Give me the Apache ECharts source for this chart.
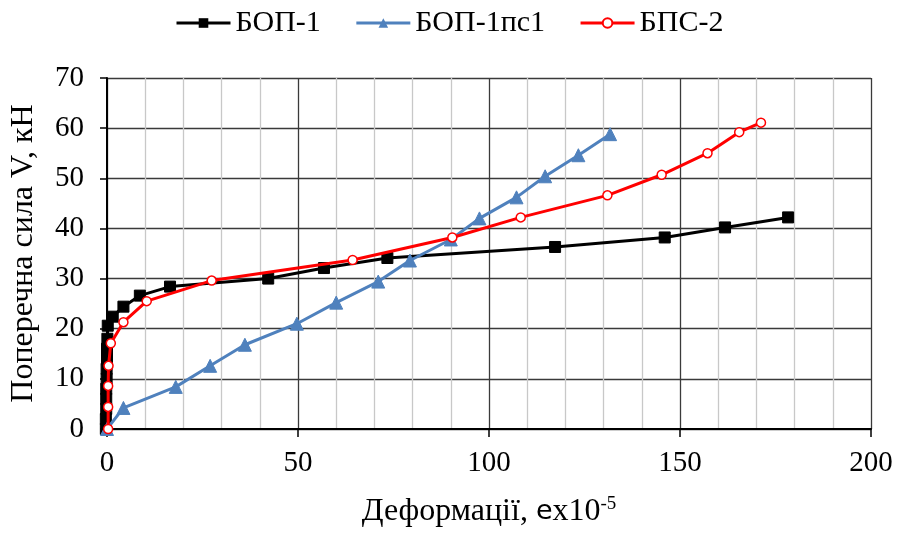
<!DOCTYPE html>
<html>
<head>
<meta charset="utf-8">
<script src="https://cdn.jsdelivr.net/npm/echarts@6/dist/echarts.min.js"></script>
<style>
html,body{margin:0;padding:0;background:#fff;}
#chart{width:897px;height:535px;}
</style>
</head>
<body>
<div id="chart"></div>
<script>
// Series names
const seriesNames = ['БОП-1', 'БОП-1пс1', 'БПС-2'];

// БОП-1: [deformation e×10^-5, shear force kN]
const bop1 = [
  [-0.3,0],[-0.3,2],[-0.2,4],[-0.2,6],[-0.2,8],[-0.1,10],[-0.1,12],[0,14],[0,16],[0.1,18],
  [0.2,20.6],[1.5,22.4],[4.3,24.4],[8.6,26.6],[16.5,28.4],[42.2,30],[56.8,32.1],
  [73.4,34.1],[117.3,36.3],[146,38.2],[161.8,40.2],[178.3,42.2]
];

// БОП-1пс1
const bop1ps1 = [
  [0,0],[4.3,4.2],[18,8.4],[27,12.6],[36.1,16.8],[49.7,21],[60,25.2],[71,29.4],
  [79.3,33.6],[90,37.8],[97.5,42],[107.2,46.2],[114.7,50.4],[123.4,54.6],[131.7,58.8]
];

// БПС-2
const bps2 = [
  [0.3,0],[0.3,4.4],[0.3,8.6],[0.4,12.6],[1,17.1],[4.3,21.3],[10.4,25.5],[27.4,29.6],
  [64.3,33.7],[90.4,38.2],[108.3,42.2],[131,46.6],[145.2,50.7],[157.2,55],[165.5,59.2],[171.2,61.1]
];

// Axis settings
const xMin = 0, xMax = 200, xStep = 50;
const yMin = 0, yMax = 70, yStep = 10;
const xTitle = 'Деформації, ';
const yTitle = 'Поперечна сила V, кН';

const FONT = '"Liberation Serif", "Times New Roman", serif';
const chart = echarts.init(document.getElementById('chart'), null, {renderer: 'canvas'});

chart.setOption({
  animation: false,
  backgroundColor: '#fff',
  textStyle: {fontFamily: FONT},
  legend: {
    top: 3,
    left: 170,
    itemWidth: 54,
    itemHeight: 12,
    itemGap: 34,
    lineStyle: {width: 3},
    textStyle: {fontFamily: FONT, fontSize: 30, color: '#000'},
    data: seriesNames
  },
  grid: {left: 107, right: 26, top: 78, bottom: 106, containLabel: false},
  xAxis: {
    type: 'value',
    min: xMin, max: xMax, interval: xStep,
    name: xTitle + '{e|e}x10{sup|-5}',
    nameLocation: 'middle',
    nameGap: 66,
    nameTextStyle: {
      fontFamily: FONT, fontSize: 32, color: '#000',
      rich: {
        e: {fontFamily: '"DejaVu Sans", sans-serif', fontSize: 27, color: '#000'},
        sup: {fontFamily: FONT, fontSize: 19, color: '#000', verticalAlign: 'top', padding: [0,0,14,0]}
      }
    },
    axisLine: {show: true, onZero: false, lineStyle: {color: '#000', width: 2}},
    axisTick: {show: true, inside: false, length: 8, lineStyle: {color: '#000', width: 1.5}},
    axisLabel: {fontFamily: FONT, fontSize: 29, color: '#000', margin: 20},
    splitLine: {show: true, lineStyle: {color: '#3a3a3a', width: 1.3}},
    minorTick: {show: false, splitNumber: 5},
    minorSplitLine: {show: true, lineStyle: {color: '#c8c8c8', width: 1.3}}
  },
  yAxis: {
    type: 'value',
    min: yMin, max: yMax, interval: yStep,
    name: yTitle,
    nameLocation: 'middle',
    nameGap: 67,
    nameRotate: 90,
    nameTextStyle: {fontFamily: FONT, fontSize: 32, color: '#000'},
    axisLine: {show: true, onZero: false, lineStyle: {color: '#000', width: 2}},
    axisTick: {show: true, inside: false, length: 7, lineStyle: {color: '#000', width: 1.5}},
    axisLabel: {fontFamily: FONT, fontSize: 29, color: '#000', margin: 23},
    splitLine: {show: true, lineStyle: {color: '#3a3a3a', width: 1.3}}
  },
  series: [
    {
      name: seriesNames[0], type: 'line', data: bop1, clip: false,
      symbol: 'rect', symbolSize: 11,
      lineStyle: {color: '#000', width: 3},
      itemStyle: {color: '#000', borderColor: '#000'},
      z: 2
    },
    {
      name: seriesNames[1], type: 'line', data: bop1ps1, clip: false,
      symbol: 'triangle', symbolSize: 13,
      lineStyle: {color: '#4f81bd', width: 3},
      itemStyle: {color: '#4f81bd', borderColor: '#4f81bd'},
      z: 3
    },
    {
      name: seriesNames[2], type: 'line', data: bps2, clip: false,
      symbol: 'circle', symbolSize: 9,
      lineStyle: {color: '#ff0000', width: 3},
      itemStyle: {color: '#fff', borderColor: '#ff0000', borderWidth: 1.5},
      z: 4
    }
  ]
});
</script>
</body>
</html>
